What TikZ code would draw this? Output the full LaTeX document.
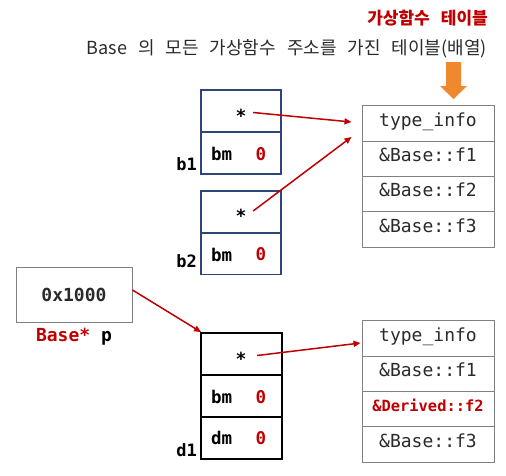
\documentclass[tikz,border=0pt]{standalone}
\usepackage{fontspec}
\setmainfont{DejaVu Sans}
\newfontfamily\mono{DejaVu Sans Mono}
\newfontfamily\kr{Noto Sans CJK KR}
\usetikzlibrary{arrows.meta}
\definecolor{navy}{HTML}{2E4677}
\definecolor{cred}{HTML}{C00000}
\definecolor{cgray}{HTML}{808080}
\definecolor{corange}{HTML}{F0882E}
\definecolor{ctext}{HTML}{2A2A2A}
\newcommand\ksp{\hspace*{11pt}}
\begin{document}
\begin{tikzpicture}[x=1pt,y=-1pt,
  cell/.style={draw=navy,line width=1.5pt,minimum width=80pt,minimum height=42pt,inner sep=0pt},
  dcell/.style={draw=black,line width=1.8pt,minimum width=81pt,minimum height=42pt,inner sep=0pt},
  trow/.style={draw=cgray,line width=1pt,minimum width=132pt,minimum height=35.25pt,inner sep=0pt,
    text height=0.75em,text depth=0.2em,font=\mono\fontsize{18}{20}\selectfont,text=ctext},
  starmark/.style={inner sep=0pt,font=\mono\bfseries\fontsize{18}{20}\selectfont},
  fld/.style={inner sep=0pt,anchor=west,font=\mono\bfseries\fontsize{17.5}{20}\selectfont,text=black},
  zero/.style={inner sep=0pt,font=\mono\bfseries\fontsize{17.5}{20}\selectfont,text=cred},
  lbl/.style={inner sep=0pt,anchor=east,font=\mono\bfseries\fontsize{17}{20}\selectfont,text=black},
  ptr/.style={draw=cred,line width=1.5pt,-{Triangle[length=7pt,width=6pt]}},
]
\useasboundingbox (0,0) rectangle (506,475);

% header
\node[anchor=east,inner sep=0pt,text=cred,font=\kr\bfseries\fontsize{17}{19}\selectfont] (ttl) at (488,18) {가상함수\hspace*{11pt}테이블};
\node[anchor=east,inner sep=0pt,text=ctext,font=\kr\fontsize{18}{20}\selectfont] (hdr) at (487,49)
  {Base\ksp 의\ksp 모든\ksp 가상함수\ksp 주소를\ksp 가진\ksp 테이블(배열)};
\fill[corange] (446,62) -- (461,62) -- (461,86) -- (467,86) -- (453.5,99) -- (440,86) -- (446,86) -- cycle;

% b1
\node[cell] (b1a) at (241,111) {};
\node[cell] (b1b) at (241,153) {};
\node[starmark] (s1) at (241,115.5) {*};
\node[fld] (b1bm) at (211,154) {bm};
\node[zero] (b1z) at (261,154) {0};
\node[lbl] (b1l) at (197,164) {b1};

% b2
\node[cell] (b2a) at (241,212) {};
\node[cell] (b2b) at (241,253.5) {};
\node[starmark] (s2) at (241,216) {*};
\node[fld] (b2bm) at (211,254.5) {bm};
\node[zero] (b2z) at (261,254.5) {0};
\node[lbl] (b2l) at (197,261) {b2};

% table 1
\node[trow] (t1a) at (428,123.6) {type\_info};
\node[trow] (t1b) at (428,158.9) {\&Base::f1};
\node[trow] (t1c) at (428,194.1) {\&Base::f2};
\node[trow] (t1d) at (428,229.4) {\&Base::f3};

% pointer
\node[draw=cgray,line width=1pt,minimum width=116pt,minimum height=55pt,inner sep=0pt,
  font=\mono\bfseries\fontsize{18}{20}\selectfont,text=ctext] (pbox) at (74,294.5) {0x1000};
\node[inner sep=0pt,font=\mono\bfseries\fontsize{18}{20}\selectfont,text=black] (plbl) at (74,337) {\textcolor{cred}{Base*} p};

% d1
\node[dcell] (d1a) at (241.5,354) {};
\node[dcell] (d1b) at (241.5,396) {};
\node[dcell] (d1c) at (241.5,438) {};
\node[starmark] (s3) at (241,358.5) {*};
\node[fld] (d1bm) at (211,397) {bm};
\node[zero] (d1bz) at (261,397) {0};
\node[fld] (d1dm) at (211,438) {dm};
\node[zero] (d1dz) at (261,438) {0};
\node[lbl] (d1l) at (197,450) {d1};

% table 2
\node[trow] (t2a) at (428,338.6) {type\_info};
\node[trow] (t2b) at (428,373.9) {\&Base::f1};
\node[trow,font=\mono\bfseries\fontsize{15.4}{18}\selectfont,text=cred] (t2c) at (428,409.1) {\&Derived::f2};
\node[trow] (t2d) at (428,444.4) {\&Base::f3};

% arrows
\draw[ptr] ([xshift=6.5pt,yshift=3pt]s1.east) -- ([xshift=-10pt,yshift=1.6pt]t1a.west);
\draw[ptr] ([xshift=6.5pt,yshift=5pt]s2.east) -- ([xshift=-10pt,yshift=-13.4pt]t1a.west);
\draw[ptr] ([yshift=4.5pt]pbox.east) -- ([xshift=1pt]d1a.north west);
\draw[ptr] ([xshift=10.5pt,yshift=3pt]s3.east) -- ([xshift=-1pt,yshift=-4.4pt]t2a.west);
\end{tikzpicture}
\end{document}
